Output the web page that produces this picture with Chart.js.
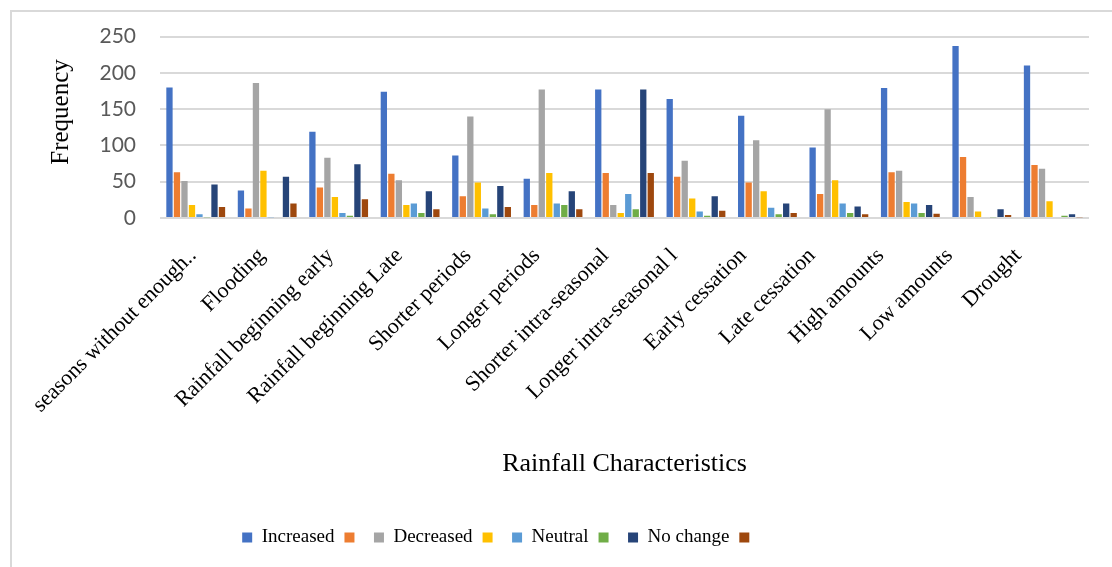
<!DOCTYPE html>
<html>
<head>
<meta charset="utf-8">
<script src="https://cdn.jsdelivr.net/npm/chart.js@4.4.1/dist/chart.umd.min.js"></script>
<style>
  html, body { margin: 0; padding: 0; background: #fff; }
  #wrap { position: relative; width: 1112px; height: 567px; }
  #frame { position: absolute; left: 10px; top: 10px; right: 0; bottom: 0;
           border-left: 2px solid #d9d9d9; border-top: 2px solid #d9d9d9; }
  canvas { position: absolute; left: 0; top: 0; }
</style>
</head>
<body>
<div id="wrap">
  <div id="frame"></div>
  <canvas id="chart" width="1112" height="567"></canvas>
</div>
<script>
// Rainfall characteristics survey - frequency of responses
const categories = [
  'seasons without enough..', 'Flooding', 'Rainfall beginning early',
  'Rainfall beginning Late', 'Shorter periods', 'Longer periods',
  'Shorter intra-seasonal', 'Longer intra-seasonal l', 'Early cessation',
  'Late cessation', 'High amounts', 'Low amounts', 'Drought'
];

const increased = [180, 38, 119, 174, 86, 54, 177, 164, 141, 97, 179, 237, 210];
const series2   = [63, 13, 42, 61, 30, 18, 62, 57, 49, 33, 63, 84, 73];
const decreased = [51, 186, 83, 52, 140, 177, 18, 79, 107, 150, 65, 29, 68];
const series4   = [18, 65, 29, 18, 49, 62, 7, 27, 37, 52, 22, 9, 23];
const neutral   = [5, 1, 7, 20, 13, 20, 33, 9, 14, 20, 20, 0, 0];
const series6   = [1, 0, 3, 7, 5, 18, 12, 3, 5, 7, 7, 1, 3];
const noChange  = [46, 57, 74, 37, 44, 37, 177, 30, 20, 16, 18, 12, 5];
const series8   = [15, 20, 26, 12, 15, 12, 62, 10, 7, 5, 6, 4, 1];

const yTicks = [0, 50, 100, 150, 200, 250];
const yTitle = 'Frequency';
const xTitle = 'Rainfall Characteristics';

const serif = "'Liberation Serif', 'Times New Roman', serif";
const sans = "Lato, 'Liberation Sans', sans-serif";

// legend sits left of centre in the original, and the y title sits high
const extras = {
  id: 'extras',
  afterLayout(chart) {
    if (chart.legend) {
      chart.legend.left -= 54;
      chart.legend.right -= 54;
    }
  },
  afterDraw(chart) {
    const c = chart.ctx;
    c.save();
    c.translate(61, 112);
    c.rotate(-Math.PI / 2);
    c.font = '25px ' + serif;
    c.fillStyle = '#000';
    c.textAlign = 'center';
    c.textBaseline = 'middle';
    c.fillText(yTitle, 0, 0);
    c.restore();
  }
};

const ctx = document.getElementById('chart');
new Chart(ctx, {
  type: 'bar',
  data: {
    labels: categories,
    datasets: [
      { label: 'Increased', data: increased, backgroundColor: '#4472C4' },
      { label: '', data: series2, backgroundColor: '#ED7D31' },
      { label: 'Decreased', data: decreased, backgroundColor: '#A5A5A5' },
      { label: '', data: series4, backgroundColor: '#FFC000' },
      { label: 'Neutral', data: neutral, backgroundColor: '#5B9BD5' },
      { label: '', data: series6, backgroundColor: '#70AD47' },
      { label: 'No change', data: noChange, backgroundColor: '#264478' },
      { label: '', data: series8, backgroundColor: '#9E480E' }
    ]
  },
  options: {
    responsive: false,
    animation: false,
    devicePixelRatio: 1,
    datasets: {
      bar: { categoryPercentage: 0.84, barPercentage: 0.84, borderWidth: 0 }
    },
    layout: { padding: { left: 20, right: 23, top: 28, bottom: 10 } },
    plugins: {
      legend: {
        position: 'bottom',
        labels: {
          boxWidth: 10,
          boxHeight: 10,
          padding: 10,
          color: '#000',
          font: { family: serif, size: 19 }
        }
      },
      tooltip: { enabled: false }
    },
    scales: {
      x: {
        grid: { display: false },
        border: { display: false },
        ticks: { display: false },
        afterFit(scale) { scale.height = 0; }
      },
      // label axis: the original packs its category labels a bit tighter than the bars
      xLabels: {
        type: 'linear',
        position: 'bottom',
        offset: false,
        min: -0.48,
        max: 13.03,
        afterBuildTicks(scale) { scale.ticks = categories.map((_, i) => ({ value: i })); },
        grid: { display: false, offset: false },
        border: { display: false },
        ticks: {
          autoSkip: false,
          minRotation: 45,
          maxRotation: 45,
          padding: 17,
          color: '#000',
          font: { family: serif, size: 22 },
          callback: (value, index) => categories[index]
        },
        title: {
          display: true,
          text: xTitle,
          color: '#000',
          font: { family: serif, size: 26 },
          padding: { top: 0, bottom: 38 }
        },
        afterFit(scale) { scale.height = 300; }
      },
      y: {
        min: 0,
        max: 250,
        afterBuildTicks(scale) { scale.ticks = yTicks.map(v => ({ value: v })); },
        grid: { color: '#d9d9d9', lineWidth: 2, drawTicks: false },
        border: { display: false },
        ticks: {
          padding: 24,
          color: '#595959',
          font: { family: sans, size: 21 }
        },
        afterFit(scale) { scale.width = 140; }
      }
    }
  },
  plugins: [extras]
});
</script>
</body>
</html>
